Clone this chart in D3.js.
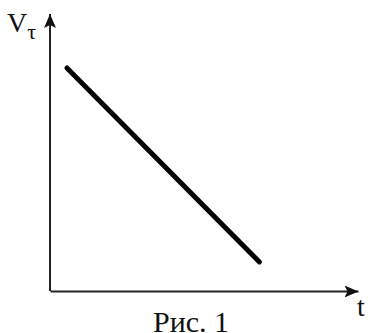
<!DOCTYPE html>
<html>
<head>
<meta charset="utf-8">
<script src="https://cdn.jsdelivr.net/npm/d3@7"></script>
<style>
  body { margin: 0; background: #fff; }
  text { font-family: "Liberation Serif", "Times New Roman", serif; fill: #111; }
</style>
</head>
<body>
<div id="chart"></div>
<script>
// values (arbitrary units)
const tValues = [0.55, 6.8];
const vValues = [8.05, 1.05];
const tDomain = [0, 10];
const vDomain = [0, 10];
const yLabel = "V";
const ySub = "τ";
const xLabel = "t";
const caption = "Рис. 1";

const svgWidth = 368, svgHeight = 333;
const margin = { top: 14, right: 10, bottom: 42, left: 50 };
const width = svgWidth - margin.left - margin.right;
const height = svgHeight - margin.top - margin.bottom;

const svg = d3.select("#chart")
  .append("svg")
  .attr("width", svgWidth)
  .attr("height", svgHeight);

// arrowheads for the axes
const defs = svg.append("defs");
defs.append("marker")
  .attr("id", "arrow")
  .attr("viewBox", "0 0 14 12")
  .attr("refX", 14)
  .attr("refY", 6)
  .attr("markerWidth", 14)
  .attr("markerHeight", 12)
  .attr("markerUnits", "userSpaceOnUse")
  .attr("orient", "auto")
  .append("path")
  .attr("d", "M0,0L14,6L0,12L3,6Z")
  .attr("fill", "#111");

const chart = svg.append("g")
  .attr("transform", `translate(${margin.left}, ${margin.top})`);

const xScale = d3.scaleLinear().domain(tDomain).range([0, width]);
const yScale = d3.scaleLinear().domain(vDomain).range([height, 0]);

// axes: only the domain lines, no ticks
chart.append("g")
  .attr("transform", `translate(0, ${height})`)
  .call(d3.axisBottom(xScale).tickValues([]).tickSizeOuter(0))
  .select(".domain")
  .attr("stroke", "#222")
  .attr("stroke-width", 2)
  .attr("marker-end", "url(#arrow)");

chart.append("g")
  .call(d3.axisLeft(yScale).tickValues([]).tickSizeOuter(0))
  .select(".domain")
  .attr("d", `M0,${height}V0`)
  .attr("stroke", "#222")
  .attr("stroke-width", 2)
  .attr("marker-end", "url(#arrow)");

// the line
const line = d3.line()
  .x((d, i) => xScale(tValues[i]))
  .y((d) => yScale(d));

chart.append("path")
  .datum(vValues)
  .attr("d", line)
  .attr("fill", "none")
  .attr("stroke", "#000")
  .attr("stroke-width", 5)
  .attr("stroke-linecap", "round");

// labels
const yl = svg.append("text")
  .attr("x", 7)
  .attr("y", 32)
  .style("font-size", "28px")
  .text(yLabel);
yl.append("tspan")
  .attr("dy", 7)
  .style("font-size", "22px")
  .text(ySub);

svg.append("text")
  .attr("x", 357)
  .attr("y", 316)
  .style("font-size", "28px")
  .text(xLabel);

svg.append("text")
  .attr("x", 191)
  .attr("y", 332)
  .attr("text-anchor", "middle")
  .style("font-size", "30px")
  .text(caption);
</script>
</body>
</html>
